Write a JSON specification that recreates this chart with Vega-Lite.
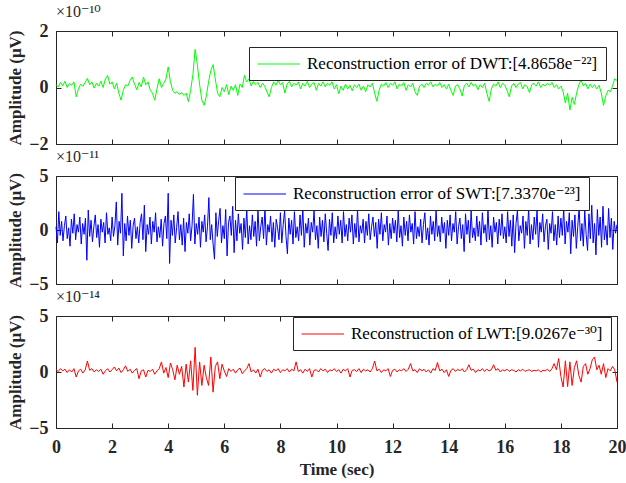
{
  "$schema": "https://vega.github.io/schema/vega-lite/v6.json",
  "background": "white",
  "padding": {"left": 6, "top": 3, "right": 8, "bottom": 0},
  "config": {
    "font": "Liberation Serif",
    "view": {"stroke": "#262626", "strokeWidth": 1},
    "axis": {
      "domain": false,
      "grid": false,
      "ticks": true,
      "tickSize": -5,
      "tickColor": "#262626",
      "tickWidth": 1,
      "labelFont": "Liberation Serif",
      "labelFontSize": 18,
      "labelFontWeight": "bold",
      "labelColor": "#262626",
      "labelFlush": false,
      "titleFont": "Liberation Serif",
      "titleFontSize": 17,
      "titleFontWeight": "bold",
      "titleColor": "#262626"
    },
    "axisX": {"labelPadding": 15, "titlePadding": 5},
    "axisY": {"labelPadding": 13, "titlePadding": 4},
    "legend": {
      "orient": "none",
      "title": null,
      "symbolType": "M-1,0H4",
      "symbolSize": 289,
      "symbolStrokeWidth": 1,
      "symbolFillColor": "transparent",
      "labelFont": "Liberation Serif, DejaVu Serif",
      "labelFontSize": 17,
      "labelFontWeight": "normal",
      "labelColor": "black",
      "labelLimit": 0,
      "labelOffset": 32,
      "strokeColor": "#262626",
      "fillColor": "white",
      "padding": 8
    },
    "title": {
      "anchor": "start",
      "frame": "group",
      "font": "Liberation Serif, DejaVu Serif",
      "fontSize": 16,
      "fontWeight": "normal",
      "color": "#262626",
      "offset": 2
    }
  },
  "datasets": {
    "dwt_lwt": [
      {"t":0,"dwt":0.10,"lwt":0.2},{"t":0.08,"dwt":0.02,"lwt":0.05},{"t":0.16,"dwt":0.18,"lwt":0.3},{"t":0.24,"dwt":0.06,"lwt":0.1},{"t":0.32,"dwt":0.22,"lwt":0.25},
      {"t":0.4,"dwt":0.0,"lwt":-0.05},{"t":0.48,"dwt":0.14,"lwt":0.2},{"t":0.56,"dwt":0.08,"lwt":0.0},{"t":0.64,"dwt":0.2,"lwt":0.3},{"t":0.72,"dwt":-0.33,"lwt":-0.45},
      {"t":0.8,"dwt":-0.05,"lwt":0.1},{"t":0.88,"dwt":0.12,"lwt":0.25},{"t":0.96,"dwt":0.04,"lwt":-0.1},{"t":1.04,"dwt":0.18,"lwt":0.2},{"t":1.12,"dwt":0.33,"lwt":0.98},
      {"t":1.2,"dwt":0.1,"lwt":0.15},{"t":1.28,"dwt":0.2,"lwt":0.3},{"t":1.36,"dwt":-0.02,"lwt":0.0},{"t":1.44,"dwt":0.15,"lwt":0.2},{"t":1.52,"dwt":0.05,"lwt":0.05},
      {"t":1.6,"dwt":0.22,"lwt":0.25},{"t":1.68,"dwt":0.0,"lwt":-0.2},{"t":1.76,"dwt":0.3,"lwt":0.1},{"t":1.84,"dwt":0.43,"lwt":0.3},{"t":1.92,"dwt":0.12,"lwt":0.0},
      {"t":2,"dwt":0.2,"lwt":0.2},{"t":2.08,"dwt":-0.05,"lwt":0.45},{"t":2.16,"dwt":0.15,"lwt":0.1},{"t":2.24,"dwt":-0.2,"lwt":0.35},{"t":2.32,"dwt":-0.45,"lwt":-0.05},
      {"t":2.4,"dwt":-0.1,"lwt":0.2},{"t":2.48,"dwt":0.1,"lwt":0.55},{"t":2.56,"dwt":0.05,"lwt":0.05},{"t":2.64,"dwt":0.25,"lwt":0.25},{"t":2.72,"dwt":0.37,"lwt":-0.1},
      {"t":2.8,"dwt":0.12,"lwt":0.15},{"t":2.88,"dwt":-0.08,"lwt":0.3},{"t":2.96,"dwt":0.18,"lwt":-0.6},{"t":3.04,"dwt":0.02,"lwt":0.1},{"t":3.12,"dwt":0.37,"lwt":0.2},
      {"t":3.2,"dwt":0.1,"lwt":-0.45},{"t":3.28,"dwt":0.2,"lwt":0.15},{"t":3.36,"dwt":-0.1,"lwt":0.05},{"t":3.44,"dwt":-0.2,"lwt":0.25},{"t":3.52,"dwt":-0.45,"lwt":-0.2},
      {"t":3.6,"dwt":-0.05,"lwt":0.1},{"t":3.68,"dwt":0.31,"lwt":0.3},{"t":3.76,"dwt":0.0,"lwt":0.9},{"t":3.84,"dwt":0.15,"lwt":-0.1},{"t":3.92,"dwt":0.3,"lwt":0.4},
      {"t":4,"dwt":0.73,"lwt":-0.5},{"t":4.08,"dwt":0.2,"lwt":0.8},{"t":4.16,"dwt":-0.1,"lwt":0.2},{"t":4.24,"dwt":-0.2,"lwt":-0.7},{"t":4.32,"dwt":-0.15,"lwt":0.6},
      {"t":4.4,"dwt":-0.25,"lwt":-0.2},{"t":4.48,"dwt":-0.18,"lwt":0.5},{"t":4.56,"dwt":-0.28,"lwt":-1.34},{"t":4.64,"dwt":-0.2,"lwt":0.7},{"t":4.72,"dwt":-0.5,"lwt":-0.9},
      {"t":4.8,"dwt":-0.1,"lwt":1.0},{"t":4.88,"dwt":0.45,"lwt":-1.64},{"t":4.96,"dwt":1.35,"lwt":2.2},{"t":5.04,"dwt":0.8,"lwt":-2.08},{"t":5.12,"dwt":0.1,"lwt":0.9},
      {"t":5.2,"dwt":-0.45,"lwt":-1.2},{"t":5.28,"dwt":-0.63,"lwt":0.6},{"t":5.36,"dwt":-0.3,"lwt":-0.5},{"t":5.44,"dwt":0.2,"lwt":-1.2},{"t":5.52,"dwt":0.6,"lwt":1.34},
      {"t":5.6,"dwt":0.81,"lwt":-1.8},{"t":5.68,"dwt":0.3,"lwt":0.5},{"t":5.76,"dwt":-0.2,"lwt":0.9},{"t":5.84,"dwt":-0.33,"lwt":-0.6},{"t":5.92,"dwt":0.0,"lwt":0.7},
      {"t":6,"dwt":-0.15,"lwt":0.1},{"t":6.08,"dwt":0.1,"lwt":-0.4},{"t":6.16,"dwt":-0.25,"lwt":0.3},{"t":6.24,"dwt":0.05,"lwt":0.05},{"t":6.32,"dwt":-0.1,"lwt":0.25},
      {"t":6.4,"dwt":0.1,"lwt":-0.1},{"t":6.48,"dwt":-0.28,"lwt":0.2},{"t":6.56,"dwt":0.12,"lwt":0.35},{"t":6.64,"dwt":0.0,"lwt":-0.15},{"t":6.72,"dwt":0.43,"lwt":0.1},
      {"t":6.8,"dwt":0.2,"lwt":0.3},{"t":6.88,"dwt":0.3,"lwt":0.75},{"t":6.96,"dwt":0.05,"lwt":0.0},{"t":7.04,"dwt":0.22,"lwt":0.2},{"t":7.12,"dwt":0.1,"lwt":-0.1},
      {"t":7.2,"dwt":0.18,"lwt":0.25},{"t":7.28,"dwt":0.0,"lwt":-0.45},{"t":7.36,"dwt":0.15,"lwt":0.15},{"t":7.44,"dwt":0.05,"lwt":0.3},{"t":7.52,"dwt":-0.15,"lwt":0.05},
      {"t":7.6,"dwt":-0.33,"lwt":0.2},{"t":7.68,"dwt":0.0,"lwt":-0.1},{"t":7.76,"dwt":0.2,"lwt":0.25},{"t":7.84,"dwt":0.08,"lwt":0.1},{"t":7.92,"dwt":0.25,"lwt":0.3},
      {"t":8,"dwt":0.1,"lwt":-0.05},{"t":8.08,"dwt":0.18,"lwt":0.2},{"t":8.16,"dwt":-0.2,"lwt":0.1},{"t":8.24,"dwt":0.12,"lwt":0.3},{"t":8.32,"dwt":0.22,"lwt":0.0},
      {"t":8.4,"dwt":0.02,"lwt":0.25},{"t":8.48,"dwt":0.15,"lwt":0.1},{"t":8.56,"dwt":0.08,"lwt":0.9},{"t":8.64,"dwt":0.2,"lwt":0.05},{"t":8.72,"dwt":-0.05,"lwt":0.2},
      {"t":8.8,"dwt":0.15,"lwt":-0.1},{"t":8.88,"dwt":0.05,"lwt":0.25},{"t":8.96,"dwt":0.22,"lwt":0.05},{"t":9.04,"dwt":0.0,"lwt":0.3},{"t":9.12,"dwt":0.12,"lwt":-0.45},
      {"t":9.2,"dwt":0.18,"lwt":0.15},{"t":9.28,"dwt":-0.1,"lwt":0.2},{"t":9.36,"dwt":0.15,"lwt":0.0},{"t":9.44,"dwt":0.05,"lwt":0.3},{"t":9.52,"dwt":0.2,"lwt":0.1},
      {"t":9.6,"dwt":0.02,"lwt":0.25},{"t":9.68,"dwt":0.15,"lwt":-0.05},{"t":9.76,"dwt":0.08,"lwt":0.2},{"t":9.84,"dwt":0.2,"lwt":0.1},{"t":9.92,"dwt":-0.05,"lwt":0.3},
      {"t":10,"dwt":0.1,"lwt":0.05},{"t":10.08,"dwt":-0.22,"lwt":0.2},{"t":10.16,"dwt":0.05,"lwt":-0.1},{"t":10.24,"dwt":-0.1,"lwt":0.25},{"t":10.32,"dwt":0.12,"lwt":0.1},
      {"t":10.4,"dwt":-0.05,"lwt":0.3},{"t":10.48,"dwt":0.08,"lwt":-0.45},{"t":10.56,"dwt":-0.12,"lwt":0.15},{"t":10.64,"dwt":0.1,"lwt":0.2},{"t":10.72,"dwt":0.0,"lwt":0.05},
      {"t":10.8,"dwt":0.12,"lwt":0.3},{"t":10.88,"dwt":-0.1,"lwt":-0.05},{"t":10.96,"dwt":0.05,"lwt":0.25},{"t":11.04,"dwt":-0.15,"lwt":0.1},{"t":11.12,"dwt":0.1,"lwt":0.2},
      {"t":11.2,"dwt":0.02,"lwt":0.0},{"t":11.28,"dwt":0.15,"lwt":0.3},{"t":11.36,"dwt":-0.2,"lwt":0.98},{"t":11.44,"dwt":-0.49,"lwt":0.1},{"t":11.52,"dwt":-0.1,"lwt":0.25},
      {"t":11.6,"dwt":0.12,"lwt":-0.05},{"t":11.68,"dwt":0.05,"lwt":0.2},{"t":11.76,"dwt":0.18,"lwt":0.1},{"t":11.84,"dwt":0.0,"lwt":0.3},{"t":11.92,"dwt":0.15,"lwt":-0.4},
      {"t":12,"dwt":0.08,"lwt":0.15},{"t":12.08,"dwt":0.2,"lwt":0.25},{"t":12.16,"dwt":-0.05,"lwt":0.0},{"t":12.24,"dwt":0.12,"lwt":0.2},{"t":12.32,"dwt":0.05,"lwt":0.1},
      {"t":12.4,"dwt":0.18,"lwt":0.3},{"t":12.48,"dwt":-0.1,"lwt":0.05},{"t":12.56,"dwt":0.1,"lwt":0.25},{"t":12.64,"dwt":0.02,"lwt":0.75},{"t":12.72,"dwt":0.15,"lwt":0.1},
      {"t":12.8,"dwt":-0.15,"lwt":0.2},{"t":12.88,"dwt":-0.28,"lwt":-0.05},{"t":12.96,"dwt":0.05,"lwt":0.3},{"t":13.04,"dwt":0.12,"lwt":0.1},{"t":13.12,"dwt":0.0,"lwt":0.25},
      {"t":13.2,"dwt":0.15,"lwt":0.0},{"t":13.28,"dwt":0.08,"lwt":0.2},{"t":13.36,"dwt":0.2,"lwt":-0.1},{"t":13.44,"dwt":0.02,"lwt":0.3},{"t":13.52,"dwt":0.12,"lwt":0.15},
      {"t":13.6,"dwt":0.05,"lwt":0.85},{"t":13.68,"dwt":0.18,"lwt":0.1},{"t":13.76,"dwt":0.0,"lwt":0.25},{"t":13.84,"dwt":0.1,"lwt":-0.05},{"t":13.92,"dwt":-0.05,"lwt":0.2},
      {"t":14,"dwt":0.12,"lwt":-0.4},{"t":14.08,"dwt":-0.1,"lwt":0.15},{"t":14.16,"dwt":-0.28,"lwt":0.3},{"t":14.24,"dwt":0.05,"lwt":0.05},{"t":14.32,"dwt":0.1,"lwt":0.25},
      {"t":14.4,"dwt":-0.05,"lwt":0.1},{"t":14.48,"dwt":-0.3,"lwt":0.3},{"t":14.56,"dwt":0.08,"lwt":0.0},{"t":14.64,"dwt":0.15,"lwt":0.2},{"t":14.72,"dwt":0.02,"lwt":0.65},
      {"t":14.8,"dwt":0.18,"lwt":0.15},{"t":14.88,"dwt":0.05,"lwt":0.25},{"t":14.96,"dwt":0.12,"lwt":-0.05},{"t":15.04,"dwt":-0.08,"lwt":0.2},{"t":15.12,"dwt":0.1,"lwt":0.1},
      {"t":15.2,"dwt":0.0,"lwt":0.3},{"t":15.28,"dwt":0.15,"lwt":0.05},{"t":15.36,"dwt":-0.2,"lwt":0.25},{"t":15.44,"dwt":-0.49,"lwt":0.1},{"t":15.52,"dwt":-0.05,"lwt":0.2},
      {"t":15.6,"dwt":0.12,"lwt":0.65},{"t":15.68,"dwt":0.05,"lwt":0.15},{"t":15.76,"dwt":0.2,"lwt":0.3},{"t":15.84,"dwt":0.0,"lwt":0.0},{"t":15.92,"dwt":0.15,"lwt":0.2},
      {"t":16,"dwt":0.08,"lwt":0.1},{"t":16.08,"dwt":-0.1,"lwt":0.25},{"t":16.16,"dwt":-0.33,"lwt":0.05},{"t":16.24,"dwt":0.05,"lwt":0.2},{"t":16.32,"dwt":0.15,"lwt":0.15},
      {"t":16.4,"dwt":0.0,"lwt":0.0},{"t":16.48,"dwt":0.12,"lwt":0.2},{"t":16.56,"dwt":0.18,"lwt":0.1},{"t":16.64,"dwt":-0.05,"lwt":0.25},{"t":16.72,"dwt":0.1,"lwt":0.05},
      {"t":16.8,"dwt":0.02,"lwt":0.15},{"t":16.88,"dwt":-0.18,"lwt":0.2},{"t":16.96,"dwt":0.1,"lwt":0.05},{"t":17.04,"dwt":0.15,"lwt":0.15},{"t":17.12,"dwt":0.05,"lwt":0.1},
      {"t":17.2,"dwt":0.2,"lwt":0.2},{"t":17.28,"dwt":0.0,"lwt":0.0},{"t":17.36,"dwt":0.12,"lwt":0.15},{"t":17.44,"dwt":0.05,"lwt":0.1},{"t":17.52,"dwt":0.15,"lwt":0.25},
      {"t":17.6,"dwt":0.08,"lwt":0.05},{"t":17.68,"dwt":0.18,"lwt":0.3},{"t":17.76,"dwt":0.0,"lwt":0.75},{"t":17.84,"dwt":0.1,"lwt":0.2},{"t":17.92,"dwt":-0.05,"lwt":1.2},
      {"t":18,"dwt":0.05,"lwt":-0.4},{"t":18.08,"dwt":-0.15,"lwt":-1.34},{"t":18.16,"dwt":-0.55,"lwt":1.0},{"t":18.24,"dwt":-0.2,"lwt":-1.3},{"t":18.32,"dwt":-0.8,"lwt":0.9},
      {"t":18.4,"dwt":-0.35,"lwt":-1.2},{"t":18.48,"dwt":-0.6,"lwt":0.4},{"t":18.56,"dwt":-0.2,"lwt":1.0},{"t":18.64,"dwt":0.1,"lwt":-0.3},{"t":18.72,"dwt":0.26,"lwt":-0.9},
      {"t":18.8,"dwt":0.05,"lwt":0.5},{"t":18.88,"dwt":0.15,"lwt":0.75},{"t":18.96,"dwt":-0.05,"lwt":-0.2},{"t":19.04,"dwt":0.12,"lwt":0.3},{"t":19.12,"dwt":0.0,"lwt":1.1},
      {"t":19.2,"dwt":0.1,"lwt":1.34},{"t":19.28,"dwt":-0.05,"lwt":0.2},{"t":19.36,"dwt":0.08,"lwt":0.6},{"t":19.44,"dwt":-0.2,"lwt":-0.2},{"t":19.52,"dwt":-0.63,"lwt":0.75},
      {"t":19.6,"dwt":-0.3,"lwt":-0.5},{"t":19.68,"dwt":-0.1,"lwt":0.3},{"t":19.76,"dwt":-0.15,"lwt":0.1},{"t":19.84,"dwt":0.05,"lwt":0.5},{"t":19.92,"dwt":0.31,"lwt":0.2},
      {"t":20,"dwt":0.25,"lwt":-0.9}
    ],
    "swt": [
      {"t":0,"v":0.3},{"t":0.05,"v":-1.2},{"t":0.1,"v":1.7},{"t":0.15,"v":-0.5},{"t":0.2,"v":0.8},{"t":0.25,"v":-1.0},{"t":0.3,"v":0.4},{"t":0.35,"v":1.3},{"t":0.4,"v":-0.8},{"t":0.45,"v":0.2},
      {"t":0.5,"v":-1.5},{"t":0.55,"v":1.0},{"t":0.6,"v":-0.3},{"t":0.65,"v":1.5},{"t":0.7,"v":-0.9},{"t":0.75,"v":0.5},{"t":0.8,"v":-0.2},{"t":0.85,"v":1.2},{"t":0.9,"v":-1.3},{"t":0.95,"v":0.6},
      {"t":1,"v":-0.4},{"t":1.05,"v":1.1},{"t":1.1,"v":-2.8},{"t":1.15,"v":1.85},{"t":1.2,"v":-0.6},{"t":1.25,"v":0.9},{"t":1.3,"v":-1.1},{"t":1.35,"v":0.3},{"t":1.4,"v":1.4},{"t":1.45,"v":-0.7},
      {"t":1.5,"v":0.5},{"t":1.55,"v":-1.6},{"t":1.6,"v":1.0},{"t":1.65,"v":-0.2},{"t":1.7,"v":0.7},{"t":1.75,"v":-1.2},{"t":1.8,"v":1.6},{"t":1.85,"v":-0.4},{"t":1.9,"v":0.2},{"t":1.95,"v":-1.0},
      {"t":2,"v":1.2},{"t":2.05,"v":-0.6},{"t":2.1,"v":0.4},{"t":2.15,"v":2.6},{"t":2.2,"v":-1.4},{"t":2.25,"v":0.8},{"t":2.3,"v":-0.3},{"t":2.35,"v":3.4},{"t":2.4,"v":-2.4},{"t":2.45,"v":0.6},
      {"t":2.5,"v":-1.0},{"t":2.55,"v":1.3},{"t":2.6,"v":-0.5},{"t":2.65,"v":0.9},{"t":2.7,"v":-1.7},{"t":2.75,"v":0.4},{"t":2.8,"v":1.1},{"t":2.85,"v":-0.8},{"t":2.9,"v":0.3},{"t":2.95,"v":-1.2},
      {"t":3,"v":0.7},{"t":3.05,"v":1.5},{"t":3.1,"v":-0.9},{"t":3.15,"v":2.3},{"t":3.2,"v":-2.0},{"t":3.25,"v":0.5},{"t":3.3,"v":-0.4},{"t":3.35,"v":1.2},{"t":3.4,"v":-1.3},{"t":3.45,"v":0.8},
      {"t":3.5,"v":-0.2},{"t":3.55,"v":1.6},{"t":3.6,"v":-1.1},{"t":3.65,"v":0.3},{"t":3.7,"v":-0.7},{"t":3.75,"v":1.0},{"t":3.8,"v":-1.5},{"t":3.85,"v":0.6},{"t":3.9,"v":1.3},{"t":3.95,"v":-0.8},
      {"t":4,"v":3.4},{"t":4.05,"v":-3.1},{"t":4.1,"v":0.9},{"t":4.15,"v":-0.5},{"t":4.2,"v":1.4},{"t":4.25,"v":-1.2},{"t":4.3,"v":0.2},{"t":4.35,"v":1.7},{"t":4.4,"v":-0.9},{"t":4.45,"v":0.5},
      {"t":4.5,"v":-1.4},{"t":4.55,"v":1.1},{"t":4.6,"v":-2.0},{"t":4.65,"v":0.7},{"t":4.7,"v":-0.3},{"t":4.75,"v":1.5},{"t":4.8,"v":-1.0},{"t":4.85,"v":0.4},{"t":4.9,"v":3.3},{"t":4.95,"v":-1.3},
      {"t":5,"v":0.6},{"t":5.05,"v":-0.4},{"t":5.1,"v":1.2},{"t":5.15,"v":-1.6},{"t":5.2,"v":0.8},{"t":5.25,"v":-0.2},{"t":5.3,"v":1.4},{"t":5.35,"v":-1.1},{"t":5.4,"v":0.3},{"t":5.45,"v":3.0},
      {"t":5.5,"v":-0.9},{"t":5.55,"v":0.5},{"t":5.6,"v":-1.3},{"t":5.65,"v":-2.7},{"t":5.7,"v":1.6},{"t":5.75,"v":-0.6},{"t":5.8,"v":0.9},{"t":5.85,"v":2.0},{"t":5.9,"v":-1.2},{"t":5.95,"v":0.4},
      {"t":6,"v":-0.8},{"t":6.05,"v":1.9},{"t":6.1,"v":-2.4},{"t":6.15,"v":0.7},{"t":6.2,"v":1.3},{"t":6.25,"v":-0.5},{"t":6.3,"v":2.2},{"t":6.35,"v":-2.1},{"t":6.4,"v":0.9},{"t":6.45,"v":-1.0},
      {"t":6.5,"v":1.5},{"t":6.55,"v":-0.3},{"t":6.6,"v":0.6},{"t":6.65,"v":-1.8},{"t":6.7,"v":1.1},{"t":6.75,"v":-0.7},{"t":6.8,"v":2.0},{"t":6.85,"v":-1.3},{"t":6.9,"v":0.4},{"t":6.95,"v":-0.9},
      {"t":7,"v":1.4},{"t":7.05,"v":-0.6},{"t":7.1,"v":0.8},{"t":7.15,"v":-1.5},{"t":7.2,"v":1.9},{"t":7.25,"v":-1.0},{"t":7.3,"v":0.3},{"t":7.35,"v":1.2},{"t":7.4,"v":-0.8},{"t":7.45,"v":2.1},
      {"t":7.5,"v":-1.4},{"t":7.55,"v":0.5},{"t":7.6,"v":-0.2},{"t":7.65,"v":1.3},{"t":7.7,"v":-1.1},{"t":7.75,"v":0.7},{"t":7.8,"v":-1.6},{"t":7.85,"v":1.0},{"t":7.9,"v":0.2},{"t":7.95,"v":-0.9},
      {"t":8,"v":1.6},{"t":8.05,"v":-1.2},{"t":8.1,"v":0.5},{"t":8.15,"v":1.8},{"t":8.2,"v":-0.6},{"t":8.25,"v":-2.2},{"t":8.3,"v":1.1},{"t":8.35,"v":-0.4},{"t":8.4,"v":0.9},{"t":8.45,"v":-1.3},
      {"t":8.5,"v":1.7},{"t":8.55,"v":-0.7},{"t":8.6,"v":0.3},{"t":8.65,"v":-1.0},{"t":8.7,"v":1.4},{"t":8.75,"v":-0.5},{"t":8.8,"v":2.0},{"t":8.85,"v":-1.6},{"t":8.9,"v":0.6},{"t":8.95,"v":-0.3},
      {"t":9,"v":1.1},{"t":9.05,"v":-1.4},{"t":9.1,"v":0.7},{"t":9.15,"v":-0.2},{"t":9.2,"v":1.8},{"t":9.25,"v":-0.9},{"t":9.3,"v":0.4},{"t":9.35,"v":-1.7},{"t":9.4,"v":1.2},{"t":9.45,"v":-0.6},
      {"t":9.5,"v":0.9},{"t":9.55,"v":-1.1},{"t":9.6,"v":1.5},{"t":9.65,"v":-0.3},{"t":9.7,"v":-1.9},{"t":9.75,"v":1.0},{"t":9.8,"v":-0.5},{"t":9.85,"v":1.6},{"t":9.9,"v":-1.2},{"t":9.95,"v":0.3},
      {"t":10,"v":-0.8},{"t":10.05,"v":1.3},{"t":10.1,"v":-0.4},{"t":10.15,"v":0.9},{"t":10.2,"v":-1.2},{"t":10.25,"v":1.7},{"t":10.3,"v":-0.6},{"t":10.35,"v":0.5},{"t":10.4,"v":-1.0},{"t":10.45,"v":1.1},
      {"t":10.5,"v":-0.2},{"t":10.55,"v":1.4},{"t":10.6,"v":-1.3},{"t":10.65,"v":0.6},{"t":10.7,"v":-0.7},{"t":10.75,"v":1.9},{"t":10.8,"v":-1.1},{"t":10.85,"v":0.4},{"t":10.9,"v":-0.3},{"t":10.95,"v":1.0},
      {"t":11,"v":-1.2},{"t":11.05,"v":0.8},{"t":11.1,"v":-0.5},{"t":11.15,"v":1.5},{"t":11.2,"v":-0.9},{"t":11.25,"v":0.3},{"t":11.3,"v":1.2},{"t":11.35,"v":-0.6},{"t":11.4,"v":0.7},{"t":11.45,"v":-1.7},
      {"t":11.5,"v":1.0},{"t":11.55,"v":-0.4},{"t":11.6,"v":1.6},{"t":11.65,"v":-1.0},{"t":11.7,"v":0.5},{"t":11.75,"v":-0.2},{"t":11.8,"v":1.3},{"t":11.85,"v":-1.4},{"t":11.9,"v":0.6},{"t":11.95,"v":-0.8},
      {"t":12,"v":1.1},{"t":12.05,"v":-0.3},{"t":12.1,"v":0.9},{"t":12.15,"v":-1.1},{"t":12.2,"v":1.8},{"t":12.25,"v":-0.7},{"t":12.3,"v":0.4},{"t":12.35,"v":-1.5},{"t":12.4,"v":1.2},{"t":12.45,"v":-0.5},
      {"t":12.5,"v":0.8},{"t":12.55,"v":-1.0},{"t":12.6,"v":1.4},{"t":12.65,"v":-0.2},{"t":12.7,"v":0.6},{"t":12.75,"v":-1.3},{"t":12.8,"v":1.7},{"t":12.85,"v":-0.8},{"t":12.9,"v":0.3},{"t":12.95,"v":-0.6},
      {"t":13,"v":1.0},{"t":13.05,"v":-1.2},{"t":13.1,"v":0.5},{"t":13.15,"v":1.6},{"t":13.2,"v":-0.9},{"t":13.25,"v":0.2},{"t":13.3,"v":-1.4},{"t":13.35,"v":1.3},{"t":13.4,"v":-0.4},{"t":13.45,"v":0.8},
      {"t":13.5,"v":-1.0},{"t":13.55,"v":1.9},{"t":13.6,"v":-0.6},{"t":13.65,"v":0.4},{"t":13.7,"v":-1.1},{"t":13.75,"v":1.2},{"t":13.8,"v":-0.3},{"t":13.85,"v":0.7},{"t":13.9,"v":-1.7},{"t":13.95,"v":0.9},
      {"t":14,"v":-0.5},{"t":14.05,"v":1.4},{"t":14.1,"v":-1.0},{"t":14.15,"v":0.6},{"t":14.2,"v":-0.2},{"t":14.25,"v":1.7},{"t":14.3,"v":-1.3},{"t":14.35,"v":0.3},{"t":14.4,"v":1.1},{"t":14.45,"v":-0.8},
      {"t":14.5,"v":0.5},{"t":14.55,"v":-2.0},{"t":14.6,"v":1.5},{"t":14.65,"v":-0.4},{"t":14.7,"v":0.9},{"t":14.75,"v":-1.2},{"t":14.8,"v":1.8},{"t":14.85,"v":-0.7},{"t":14.9,"v":0.2},{"t":14.95,"v":-1.0},
      {"t":15,"v":1.3},{"t":15.05,"v":-0.6},{"t":15.1,"v":0.8},{"t":15.15,"v":-1.4},{"t":15.2,"v":1.6},{"t":15.25,"v":-0.3},{"t":15.3,"v":0.5},{"t":15.35,"v":-1.1},{"t":15.4,"v":1.9},{"t":15.45,"v":-0.9},
      {"t":15.5,"v":0.4},{"t":15.55,"v":-1.6},{"t":15.6,"v":1.2},{"t":15.65,"v":-0.2},{"t":15.7,"v":0.7},{"t":15.75,"v":-1.3},{"t":15.8,"v":1.0},{"t":15.85,"v":-0.5},{"t":15.9,"v":1.5},{"t":15.95,"v":-0.8},
      {"t":16,"v":0.3},{"t":16.05,"v":-1.2},{"t":16.1,"v":1.7},{"t":16.15,"v":-0.6},{"t":16.2,"v":0.9},{"t":16.25,"v":-1.5},{"t":16.3,"v":1.4},{"t":16.35,"v":-2.1},{"t":16.4,"v":0.6},{"t":16.45,"v":1.8},
      {"t":16.5,"v":-1.0},{"t":16.55,"v":0.4},{"t":16.6,"v":-0.3},{"t":16.65,"v":1.3},{"t":16.7,"v":-1.7},{"t":16.75,"v":0.8},{"t":16.8,"v":-0.5},{"t":16.85,"v":2.0},{"t":16.9,"v":-1.3},{"t":16.95,"v":0.5},
      {"t":17,"v":-0.9},{"t":17.05,"v":1.2},{"t":17.1,"v":-0.4},{"t":17.15,"v":1.9},{"t":17.2,"v":-1.6},{"t":17.25,"v":0.7},{"t":17.3,"v":-0.2},{"t":17.35,"v":1.5},{"t":17.4,"v":-1.1},{"t":17.45,"v":0.4},
      {"t":17.5,"v":1.0},{"t":17.55,"v":-1.8},{"t":17.6,"v":0.6},{"t":17.65,"v":-0.3},{"t":17.7,"v":1.7},{"t":17.75,"v":-1.0},{"t":17.8,"v":0.5},{"t":17.85,"v":-1.4},{"t":17.9,"v":1.3},{"t":17.95,"v":-0.7},
      {"t":18,"v":1.1},{"t":18.05,"v":-0.5},{"t":18.1,"v":2.0},{"t":18.15,"v":-1.3},{"t":18.2,"v":0.8},{"t":18.25,"v":-0.2},{"t":18.3,"v":1.6},{"t":18.35,"v":-2.2},{"t":18.4,"v":0.9},{"t":18.45,"v":-0.6},
      {"t":18.5,"v":1.4},{"t":18.55,"v":-1.7},{"t":18.6,"v":0.3},{"t":18.65,"v":2.1},{"t":18.7,"v":-1.0},{"t":18.75,"v":0.6},{"t":18.8,"v":-1.5},{"t":18.85,"v":1.8},{"t":18.9,"v":-0.4},{"t":18.95,"v":-1.9},
      {"t":19,"v":1.5},{"t":19.05,"v":-0.8},{"t":19.1,"v":2.3},{"t":19.15,"v":-1.2},{"t":19.2,"v":0.6},{"t":19.25,"v":-2.3},{"t":19.3,"v":1.9},{"t":19.35,"v":-0.5},{"t":19.4,"v":1.2},{"t":19.45,"v":-1.6},
      {"t":19.5,"v":2.2},{"t":19.55,"v":-0.9},{"t":19.6,"v":0.4},{"t":19.65,"v":-1.4},{"t":19.7,"v":2.0},{"t":19.75,"v":-0.7},{"t":19.8,"v":1.1},{"t":19.85,"v":-1.8},{"t":19.9,"v":0.8},{"t":19.95,"v":-0.3},
      {"t":20,"v":0.5}
    ]
  },
  "resolve": {"scale": {"color": "independent"}, "legend": {"color": "independent"}},
  "bounds": "flush",
  "spacing": 32,
  "vconcat": [
    {
      "width": 561,
      "height": 113,
      "title": {"text": "×10⁻¹⁰"},
      "data": {"name": "dwt_lwt"},
      "layer": [
        {
          "mark": {"type": "line", "strokeWidth": 1},
          "encoding": {
            "x": {"field": "t", "type": "quantitative", "scale": {"domain": [0, 20], "nice": false},
                  "axis": {"values": [0, 2, 4, 6, 8, 10, 12, 14, 16, 18, 20], "labels": false, "title": null}},
            "y": {"field": "dwt", "type": "quantitative", "scale": {"domain": [-2, 2], "nice": false},
                  "axis": {"values": [-2, 0, 2], "title": "Amplitude (μV)"}},
            "color": {"datum": "Reconstruction error of DWT:[4.8658e⁻²²]", "type": "nominal",
                      "scale": {"range": ["#00ff00"]},
                      "legend": {"legendX": 193, "legendY": 16, "symbolStrokeColor": "#00ff00"}}
          }
        },
        {
          "mark": {"type": "point", "opacity": 0},
          "encoding": {
            "x": {"field": "t", "type": "quantitative", "scale": {"domain": [0, 20], "nice": false},
                  "axis": {"orient": "top", "values": [0, 2, 4, 6, 8, 10, 12, 14, 16, 18, 20], "labels": false, "title": null}},
            "y": {"field": "dwt", "type": "quantitative", "scale": {"domain": [-2, 2], "nice": false},
                  "axis": {"orient": "right", "values": [-2, 0, 2], "labels": false, "title": null}}
          }
        }
      ],
      "resolve": {"axis": {"x": "independent", "y": "independent"}}
    },
    {
      "width": 561,
      "height": 108,
      "title": {"text": "×10⁻¹¹"},
      "data": {"name": "swt"},
      "layer": [
        {
          "mark": {"type": "line", "strokeWidth": 1},
          "encoding": {
            "x": {"field": "t", "type": "quantitative", "scale": {"domain": [0, 20], "nice": false},
                  "axis": {"values": [0, 2, 4, 6, 8, 10, 12, 14, 16, 18, 20], "labels": false, "title": null}},
            "y": {"field": "v", "type": "quantitative", "scale": {"domain": [-5, 5], "nice": false},
                  "axis": {"values": [-5, 0, 5], "title": "Amplitude (μV)"}},
            "color": {"datum": "Reconstruction error of SWT:[7.3370e⁻²³]", "type": "nominal",
                      "scale": {"range": ["#0000ff"]},
                      "legend": {"legendX": 179, "legendY": 1, "symbolStrokeColor": "#0000ff"}}
          }
        },
        {
          "mark": {"type": "point", "opacity": 0},
          "encoding": {
            "x": {"field": "t", "type": "quantitative", "scale": {"domain": [0, 20], "nice": false},
                  "axis": {"orient": "top", "values": [0, 2, 4, 6, 8, 10, 12, 14, 16, 18, 20], "labels": false, "title": null}},
            "y": {"field": "v", "type": "quantitative", "scale": {"domain": [-5, 5], "nice": false},
                  "axis": {"orient": "right", "values": [-5, 0, 5], "labels": false, "title": null}}
          }
        }
      ],
      "resolve": {"axis": {"x": "independent", "y": "independent"}}
    },
    {
      "width": 561,
      "height": 112,
      "title": {"text": "×10⁻¹⁴"},
      "data": {"name": "dwt_lwt"},
      "layer": [
        {
          "mark": {"type": "line", "strokeWidth": 1},
          "encoding": {
            "x": {"field": "t", "type": "quantitative", "scale": {"domain": [0, 20], "nice": false},
                  "axis": {"values": [0, 2, 4, 6, 8, 10, 12, 14, 16, 18, 20], "title": "Time (sec)"}},
            "y": {"field": "lwt", "type": "quantitative", "scale": {"domain": [-5, 5], "nice": false},
                  "axis": {"values": [-5, 0, 5], "title": "Amplitude (μV)"}},
            "color": {"datum": "Reconstruction of LWT:[9.0267e⁻³⁰]", "type": "nominal",
                      "scale": {"range": ["#ff0000"]},
                      "legend": {"legendX": 237, "legendY": 1, "symbolStrokeColor": "#ff0000"}}
          }
        },
        {
          "mark": {"type": "point", "opacity": 0},
          "encoding": {
            "x": {"field": "t", "type": "quantitative", "scale": {"domain": [0, 20], "nice": false},
                  "axis": {"orient": "top", "values": [0, 2, 4, 6, 8, 10, 12, 14, 16, 18, 20], "labels": false, "title": null}},
            "y": {"field": "lwt", "type": "quantitative", "scale": {"domain": [-5, 5], "nice": false},
                  "axis": {"orient": "right", "values": [-5, 0, 5], "labels": false, "title": null}}
          }
        }
      ],
      "resolve": {"axis": {"x": "independent", "y": "independent"}}
    }
  ]
}
